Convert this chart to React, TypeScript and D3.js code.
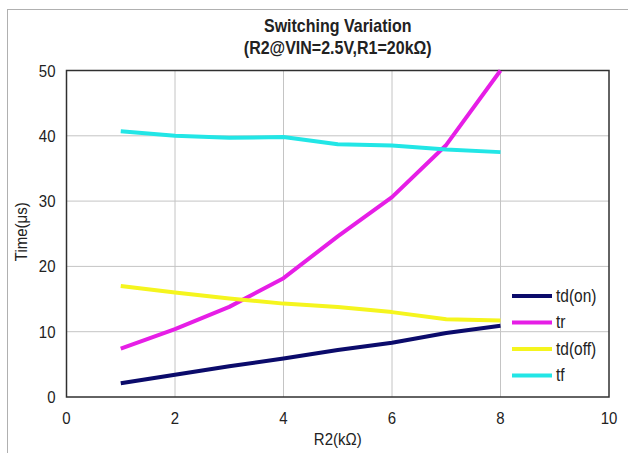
import * as d3 from 'd3'
import React, { useEffect, useRef } from 'react'

const r2 = [1, 2, 3, 4, 5, 6, 7, 8]
const tdOn = [2.1, 3.4, 4.7, 5.9, 7.2, 8.3, 9.8, 10.9]
const tr = [7.4, 10.4, 13.8, 18.2, 24.6, 30.6, 38.6, 50]
const tdOff = [17.0, 16.0, 15.1, 14.3, 13.8, 13.0, 11.9, 11.7]
const tf = [40.7, 40.0, 39.7, 39.8, 38.7, 38.5, 37.9, 37.5]

const seriesNames = ['td(on)', 'tr', 'td(off)', 'tf']
const seriesValues = [tdOn, tr, tdOff, tf]
const seriesColors = ['#0b0b6b', '#e61ee6', '#f5f51e', '#22e6e6']

const xTicks = [0, 2, 4, 6, 8, 10]
const yTicks = [0, 10, 20, 30, 40, 50]

const width = 628
const height = 453
const font = 'Arial, "Liberation Sans", sans-serif'
const stretch = 1.15 // the source picture is a bit taller than wide

const App: React.FC = () => {
  const ref = useRef<SVGSVGElement>(null)

  useEffect(() => {
    const svg = d3.select(ref.current)
    svg.selectAll('*').remove()

    const margin = { top: 70.5, right: 19, bottom: 56, left: 66.5 }
    const x = d3.scaleLinear().domain([0, 10]).range([margin.left, width - margin.right])
    const y = d3.scaleLinear().domain([0, 50]).range([height - margin.bottom, margin.top])

    const label = (
      px: number,
      py: number,
      txt: string,
      size: number,
      anchor = 'middle',
      bold = false,
      rotate = 0
    ) =>
      svg
        .append('text')
        .attr('transform', `translate(${px},${py}) rotate(${rotate}) scale(1,${stretch})`)
        .attr('text-anchor', anchor)
        .attr('font-family', font)
        .attr('font-size', size)
        .attr('font-weight', bold ? 'bold' : 'normal')
        .attr('fill', '#222')
        .text(txt)

    // chart area frame
    svg
      .append('rect')
      .attr('x', 7.5)
      .attr('y', 9.5)
      .attr('width', width + 10)
      .attr('height', height + 10)
      .attr('fill', '#fff')
      .attr('stroke', '#b0b0b0')

    // grid
    const grid = svg.append('g').attr('stroke', '#c4c4c4').attr('stroke-width', 1)
    grid
      .selectAll('.gx')
      .data(xTicks.slice(1, -1))
      .enter()
      .append('line')
      .attr('x1', (d) => x(d))
      .attr('x2', (d) => x(d))
      .attr('y1', y(0))
      .attr('y2', y(50))
    grid
      .selectAll('.gy')
      .data(yTicks.slice(1, -1))
      .enter()
      .append('line')
      .attr('x1', x(0))
      .attr('x2', x(10))
      .attr('y1', (d) => y(d))
      .attr('y2', (d) => y(d))

    // plot border
    svg
      .append('rect')
      .attr('x', x(0))
      .attr('y', y(50))
      .attr('width', x(10) - x(0))
      .attr('height', y(0) - y(50))
      .attr('fill', 'none')
      .attr('stroke', '#303030')
      .attr('stroke-width', 1.5)

    // tick labels
    yTicks.forEach((d) => label(x(0) - 11, y(d) + 6, String(d), 15, 'end'))
    xTicks.forEach((d) => label(x(d), y(0) + 27, String(d), 15))

    // axis titles
    label((x(0) + x(10)) / 2, 445, 'R2(kΩ)', 15)
    label(27, (y(0) + y(50)) / 2 - 2, 'Time(μs)', 15, 'middle', false, -90)

    // title
    label((x(0) + x(10)) / 2, 31.5, 'Switching Variation', 16, 'middle', true)
    label((x(0) + x(10)) / 2, 53.5, '(R2@VIN=2.5V,R1=20kΩ)', 16, 'middle', true)

    // series
    const line = d3
      .line<number>()
      .x((d, i) => x(r2[i]))
      .y((d) => y(d))
    seriesValues.forEach((vals, i) => {
      svg
        .append('path')
        .datum(vals)
        .attr('d', line)
        .attr('fill', 'none')
        .attr('stroke', seriesColors[i])
        .attr('stroke-width', 4)
        .attr('stroke-linejoin', 'round')
    })

    // legend
    seriesNames.forEach((name, i) => {
      const ly = 296 + i * 26.5
      svg
        .append('line')
        .attr('x1', 512)
        .attr('x2', 552)
        .attr('y1', ly)
        .attr('y2', ly)
        .attr('stroke', seriesColors[i])
        .attr('stroke-width', 4)
      label(556, ly + 5.5, name, 15.5, 'start')
    })
  }, [])

  return (
    <div style={{ position: 'absolute', left: 0, top: 0 }}>
      <svg ref={ref} width={width} height={height} style={{ display: 'block' }} />
    </div>
  )
}

export default App
